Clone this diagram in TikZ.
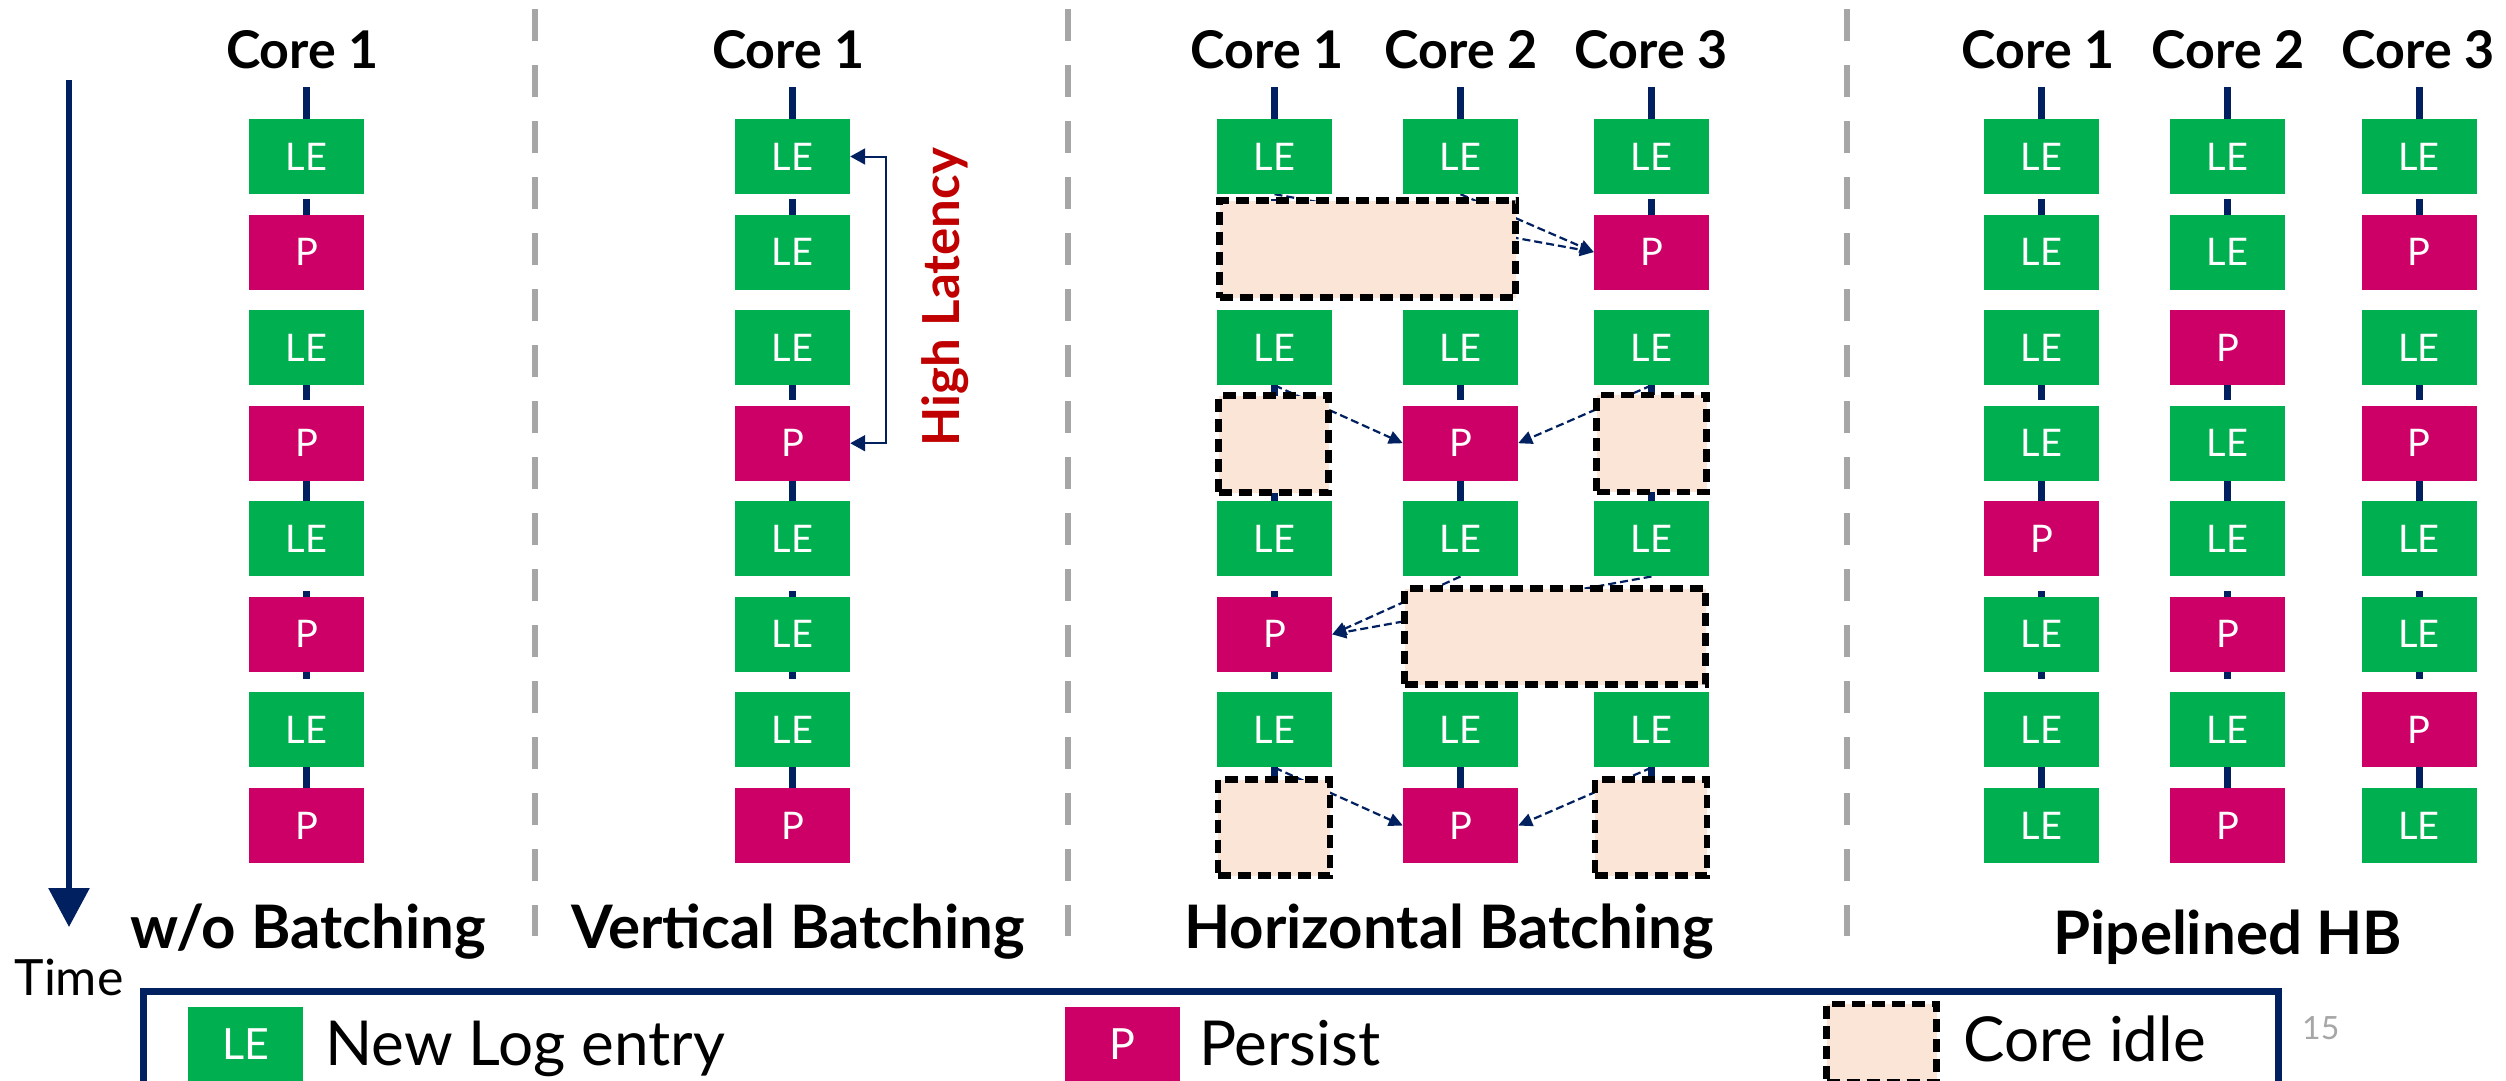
\documentclass[tikz,border=0pt]{standalone}
\usepackage{fontspec}
\setmainfont{Lato}
\usetikzlibrary{arrows.meta}
\pgfdeclarelayer{paper}
\pgfdeclarelayer{bg}
\pgfsetlayers{paper,bg,main}
\definecolor{lgreen}{HTML}{00B050}
\definecolor{pmag}{HTML}{CC0066}
\definecolor{navy}{HTML}{002060}
\definecolor{idlefill}{HTML}{FBE5D6}
\definecolor{sepgray}{HTML}{A6A6A6}
\definecolor{hlred}{HTML}{C00000}
\begin{document}
\begin{tikzpicture}[x=1pt,y=-1pt,
  box/.style={minimum width=115pt,minimum height=75pt,inner sep=0pt,text=white,font=\fontsize{38}{40}\selectfont},
  LE-box/.style={box,fill=lgreen},
  P-box/.style={box,fill=pmag},
  idle/.style={draw=black,line width=6.5pt,dash pattern=on 13pt off 7pt,fill=idlefill,inner sep=0pt},
  coreline/.style={draw=navy,line width=7pt},
  sendarrow/.style={draw=navy,line width=2.2pt,dash pattern=on 8pt off 4pt,-{Triangle[length=14pt,width=13pt]}},
  sepline/.style={draw=sepgray,line width=6pt,dash pattern=on 32pt off 24pt},
  title/.style={font=\bfseries\fontsize{52}{56}\selectfont,anchor=base,inner sep=0pt},
  caption/.style={font=\bfseries\fontsize{60}{64}\selectfont,anchor=base,inner sep=0pt},
  legtext/.style={font=\fontsize{62}{66}\selectfont,anchor=base west,inner sep=0pt},
]
\useasboundingbox (0,0) rectangle (2506,1081);
\begin{pgfonlayer}{paper}
\fill[white] (0,0) rectangle (2506,1081);
\end{pgfonlayer}

% separators
\coordinate (s1a) at (534.5,9);  \coordinate (s1b) at (534.5,936);
\coordinate (s2a) at (1068,9);   \coordinate (s2b) at (1068,936);
\coordinate (s3a) at (1847,9);   \coordinate (s3b) at (1847,936);
\draw[sepline] (s1a) -- (s1b);
\draw[sepline] (s2a) -- (s2b);
\draw[sepline] (s3a) -- (s3b);

% time arrow
\coordinate (t0) at (69,80);
\coordinate (t1) at (69,927);
\draw[navy,line width=6pt,-{Triangle[length=39pt,width=40pt]}] (t0) -- (t1);
\node[font=\fontsize{50}{54}\selectfont,anchor=base,inner sep=0pt] (timelbl) at (69,995) {Time};

% titles
\node[title] (tc1) at (302.5,69) {Core 1};
\node[title] (tc2) at (788.5,69) {Core 1};
\node[title] (th1) at (1267,69) {Core 1};
\node[title] (th2) at (1461,69) {Core 2};
\node[title] (th3) at (1651,69) {Core 3};
\node[title] (tp1) at (2038,69) {Core 1};
\node[title] (tp2) at (2228,69) {Core 2};
\node[title] (tp3) at (2418,69) {Core 3};

% captions
\node[caption] (cap1) at (308,948) {w/o Batching};
\node[caption] (cap2) at (798,948) {Vertical Batching};
\node[caption] (cap3) at (1449,948) {Horizontal Batching};
\node[caption] (cap4) at (2228,954) {Pipelined HB};

% w/o batching
\foreach \t [count=\i from 0] in {LE,P,LE,P,LE,P,LE,P}{
  \pgfmathsetmacro{\yy}{156.5+95.57*\i}
  \node[\t-box] (w\i) at (306.5,\yy) {\t};
}
% vertical batching
\foreach \t [count=\i from 0] in {LE,LE,LE,P,LE,LE,LE,P}{
  \pgfmathsetmacro{\yy}{156.5+95.57*\i}
  \node[\t-box] (v\i) at (792.5,\yy) {\t};
}
% pipelined HB
\foreach \t [count=\i from 0] in {LE,LE,LE,LE,P,LE,LE,LE}{
  \pgfmathsetmacro{\yy}{156.5+95.57*\i}
  \node[\t-box] (q1-\i) at (2041.5,\yy) {\t};
}
\foreach \t [count=\i from 0] in {LE,LE,P,LE,LE,P,LE,P}{
  \pgfmathsetmacro{\yy}{156.5+95.57*\i}
  \node[\t-box] (q2-\i) at (2227.5,\yy) {\t};
}
\foreach \t [count=\i from 0] in {LE,P,LE,P,LE,LE,P,LE}{
  \pgfmathsetmacro{\yy}{156.5+95.57*\i}
  \node[\t-box] (q3-\i) at (2419,\yy) {\t};
}

% horizontal batching
\node[LE-box] (h1-0) at (1274.5,156.5) {LE};
\node[LE-box] (h2-0) at (1460.5,156.5) {LE};
\node[LE-box] (h3-0) at (1651.5,156.5) {LE};
\node[P-box]  (h3-1) at (1651.5,252.07) {P};
\node[LE-box] (h1-2) at (1274.5,347.64) {LE};
\node[LE-box] (h2-2) at (1460.5,347.64) {LE};
\node[LE-box] (h3-2) at (1651.5,347.64) {LE};
\node[P-box]  (h2-3) at (1460.5,443.21) {P};
\node[LE-box] (h1-4) at (1274.5,538.78) {LE};
\node[LE-box] (h2-4) at (1460.5,538.78) {LE};
\node[LE-box] (h3-4) at (1651.5,538.78) {LE};
\node[P-box]  (h1-5) at (1274.5,634.35) {P};
\node[LE-box] (h1-6) at (1274.5,729.92) {LE};
\node[LE-box] (h2-6) at (1460.5,729.92) {LE};
\node[LE-box] (h3-6) at (1651.5,729.92) {LE};
\node[P-box]  (h2-7) at (1460.5,825.5) {P};

% idle boxes
\node[idle,minimum width=296pt,minimum height=97pt] (idA) at (1367.5,249) {};
\node[idle,minimum width=110pt,minimum height=97pt] (idB) at (1273.5,444) {};
\node[idle,minimum width=110pt,minimum height=97pt] (idC) at (1651.5,443.5) {};
\node[idle,minimum width=301pt,minimum height=96pt] (idD) at (1555,636.5) {};
\node[idle,minimum width=112pt,minimum height=96pt] (idE) at (1274,827.5) {};
\node[idle,minimum width=112pt,minimum height=96pt] (idF) at (1651,827.5) {};

% high latency
\draw[navy,line width=2pt,{Triangle[length=15pt,width=16pt]}-{Triangle[length=15pt,width=16pt]}]
  (v0.east) -- ++(36,0) |- (v3.east);
\node[rotate=90,font=\bfseries\fontsize{51}{54}\selectfont,text=hlred,inner sep=0pt] (hl) at (945,297) {High Latency};

\begin{pgfonlayer}{bg}
  \foreach \x in {306.5,792.5,1274.5,1460.5,1651.5,2041.5,2227.5,2419}{
    \foreach \a/\b in {87/120,199/216,385/400,480/502,591/599,672/679,767/789}
      \draw[coreline] (\x,\a) -- (\x,\b);
  }
  \draw[sendarrow] (h1-0.south) -- (h3-1.west);
  \draw[sendarrow] (h2-0.south) -- (h3-1.west);
  \draw[sendarrow] (h1-2.south) -- (h2-3.west);
  \draw[sendarrow] (h3-2.south) -- (h2-3.east);
  \draw[sendarrow] (h2-4.south) -- (h1-5.east);
  \draw[sendarrow] (h3-4.south) -- (h1-5.east);
  \draw[sendarrow] (h1-6.south) -- (h2-7.west);
  \draw[sendarrow] (h3-6.south) -- (h2-7.east);
\end{pgfonlayer}

% legend
\coordinate (lgA) at (143,1130);
\coordinate (lgB) at (143,991);
\coordinate (lgC) at (2278,991);
\coordinate (lgD) at (2278,1130);
\draw[navy,line width=7pt] (lgA) -- (lgB) -- (lgC) -- (lgD);
\node[LE-box,font=\fontsize{43}{46}\selectfont] (legLE) at (245.5,1044.5) {LE};
\node[legtext] (legLEt) at (325,1065) {New Log entry};
\node[P-box,font=\fontsize{43}{46}\selectfont] (legP) at (1122.5,1044) {P};
\node[legtext] (legPt) at (1199,1065) {Persist};
\node[idle,minimum width=110pt,minimum height=78pt] (legI) at (1881.5,1043) {};
\node[legtext] (legIt) at (1963,1061) {Core idle};
\node[font=\fontsize{32}{34}\selectfont,text=sepgray,anchor=base west,inner sep=0pt] (pgno) at (2302,1039) {15};
\end{tikzpicture}
\end{document}
